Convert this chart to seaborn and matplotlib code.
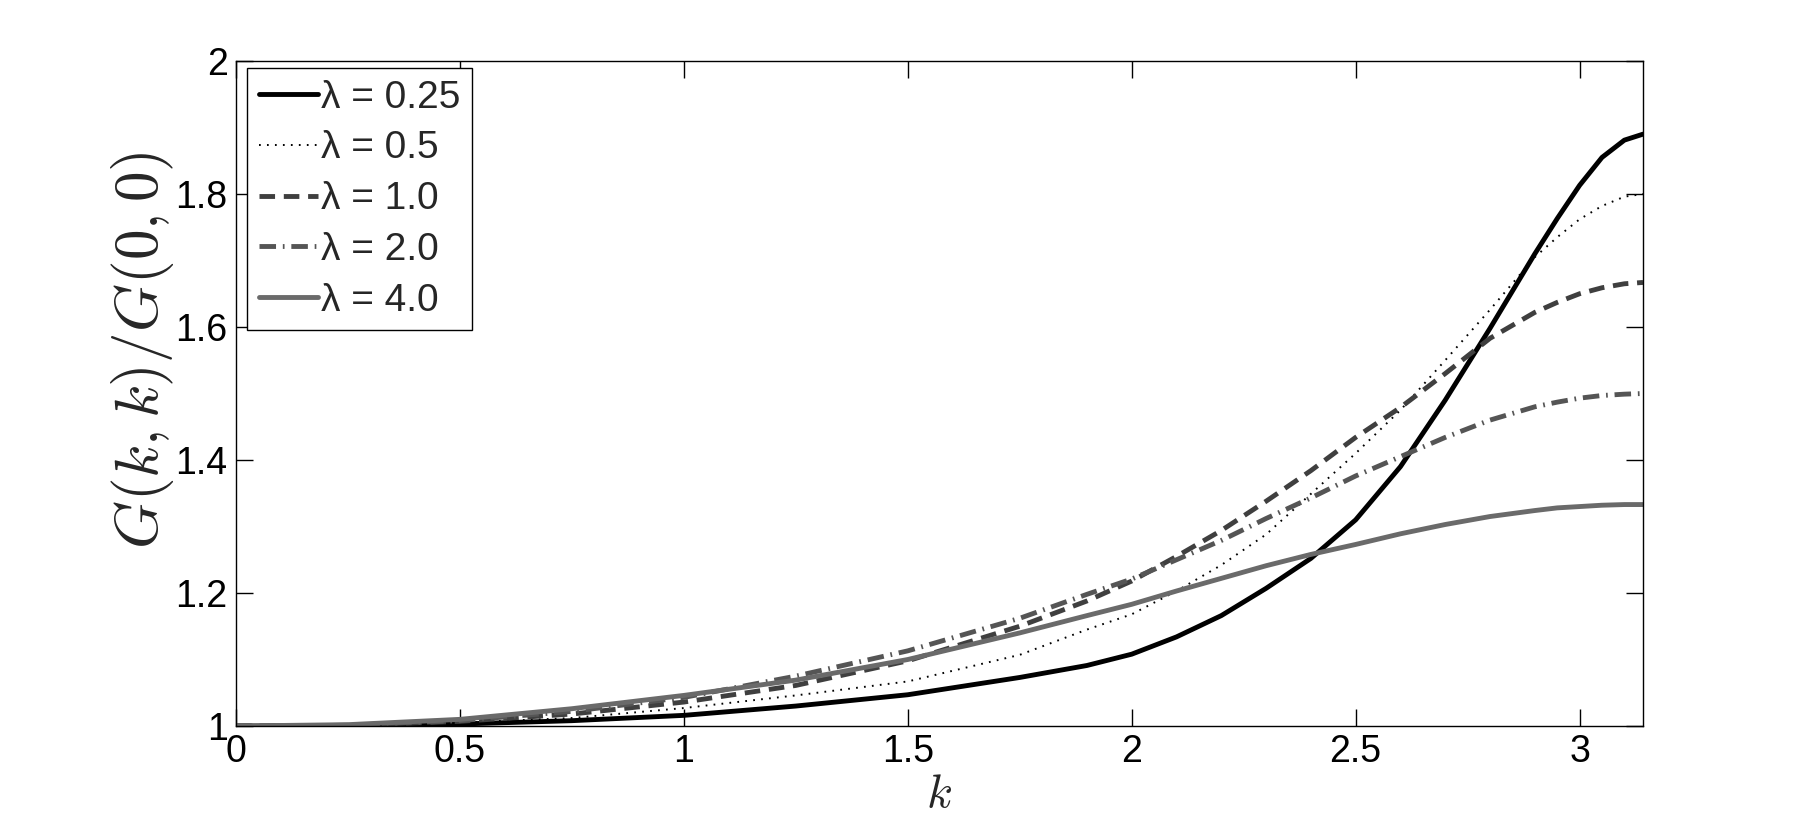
import numpy as np
import pandas as pd
import matplotlib
matplotlib.use("Agg")
import matplotlib.pyplot as plt
import seaborn as sns

# ---- data ----
k_vals = [0.0, 0.25, 0.5, 0.75, 1.0, 1.25, 1.5, 1.75, 1.9, 2.0, 2.1, 2.2, 2.3,
          2.4, 2.5, 2.6, 2.7, 2.8, 2.9, 2.95, 3.0, 3.05, 3.1, 3.1416]
g_lam025 = [1.000, 1.000, 1.003, 1.008, 1.016, 1.030, 1.047, 1.073, 1.091, 1.108,
            1.134, 1.166, 1.207, 1.252, 1.310, 1.390, 1.490, 1.598, 1.710, 1.763,
            1.813, 1.855, 1.881, 1.890]
g_lam05 = [1.000, 1.001, 1.005, 1.012, 1.027, 1.046, 1.067, 1.107, 1.145, 1.168,
           1.203, 1.242, 1.288, 1.349, 1.410, 1.475, 1.550, 1.626, 1.705, 1.735,
           1.762, 1.782, 1.796, 1.800]
g_lam1 = [1.000, 1.001, 1.007, 1.018, 1.036, 1.061, 1.098, 1.150, 1.188, 1.218,
          1.255, 1.294, 1.338, 1.384, 1.434, 1.479, 1.530, 1.583, 1.622, 1.637,
          1.650, 1.659, 1.665, 1.667]
g_lam2 = [1.000, 1.001, 1.008, 1.022, 1.043, 1.075, 1.113, 1.162, 1.198, 1.221,
          1.250, 1.279, 1.312, 1.343, 1.376, 1.405, 1.434, 1.460, 1.480, 1.487,
          1.493, 1.497, 1.499, 1.500]
g_lam4 = [1.000, 1.002, 1.010, 1.026, 1.046, 1.069, 1.100, 1.140, 1.166, 1.183,
          1.203, 1.222, 1.241, 1.258, 1.273, 1.289, 1.303, 1.315, 1.324, 1.328,
          1.330, 1.332, 1.333, 1.333]
series_labels = ["λ = 0.25", "λ = 0.5", "λ = 1.0", "λ = 2.0", "λ = 4.0"]
x_ticks = [0, 0.5, 1, 1.5, 2, 2.5, 3]
x_tick_labels = ["0", "0.5", "1", "1.5", "2", "2.5", "3"]
y_ticks = [1, 1.2, 1.4, 1.6, 1.8, 2]
y_tick_labels = ["1", "1.2", "1.4", "1.6", "1.8", "2"]

series = [g_lam025, g_lam05, g_lam1, g_lam2, g_lam4]

styles = [
    dict(color="black", lw=3.5, ls="-"),
    dict(color="black", lw=1.4, ls=(0, (0.9, 3.2))),
    dict(color="#3f3f3f", lw=3.5, ls=(0, (3.2, 1.8))),
    dict(color="#555555", lw=3.5, ls=(0, (3.4, 1.4, 0.35, 1.4))),
    dict(color="#6a6a6a", lw=3.5, ls="-"),
]

sns.set_style("ticks")
plt.rcParams["font.family"] = ["Liberation Sans", "DejaVu Sans"]
plt.rcParams["mathtext.fontset"] = "cm"

fig = plt.figure(figsize=(18.14, 8.16), dpi=100)
ax = fig.add_axes([236 / 1814, 1 - 726 / 816, (1643 - 236) / 1814, (726 - 61) / 816])

for vals, lab, st in zip(series, series_labels, styles):
    df = pd.DataFrame({"k": k_vals, "g": vals})
    sns.lineplot(data=df, x="k", y="g", ax=ax, label=lab, color=st["color"],
                 linewidth=st["lw"], linestyle=st["ls"], sort=False)

ax.set_xlim(0, np.pi)
ax.set_ylim(1, 2)
ax.set_xticks(x_ticks)
ax.set_xticklabels(x_tick_labels)
ax.set_yticks(y_ticks)
ax.set_yticklabels(y_tick_labels)
ax.tick_params(direction="in", length=12, width=1, labelsize=27, pad=6,
               top=True, right=True, colors="black")
for sp in ax.spines.values():
    sp.set_visible(True)
    sp.set_color("black")
    sp.set_linewidth(1.0)

ax.set_xlabel(r"$k$", fontsize=34, va="center")
ax.set_ylabel(r"$G(k,k)/G(0,0)$", fontsize=44)
ax.xaxis.set_label_coords(0.5, -(795 - 726) / 665)
ax.yaxis.set_label_coords((176 - 236) / 1407, 0.565)

leg = ax.legend(loc="upper left", bbox_to_anchor=(0.0078, 0.9895), borderaxespad=0,
                fontsize=28, frameon=True, fancybox=False, framealpha=1,
                edgecolor="black", handlelength=1.52, handletextpad=0.08,
                labelspacing=0.38, borderpad=0.3)
leg.get_frame().set_linewidth(1.0)

fig.savefig("out.png", dpi=100, facecolor="white")
